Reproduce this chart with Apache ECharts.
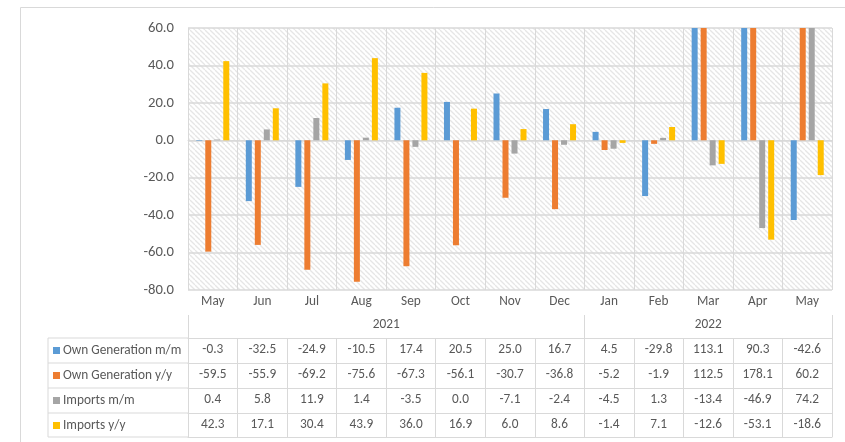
<!DOCTYPE html>
<html>
<head>
<meta charset="utf-8">
<script src="https://cdn.jsdelivr.net/npm/echarts@6/dist/echarts.min.js"></script>
<style>
html, body { margin: 0; padding: 0; background: #fff; }
#chart1 { width: 845px; height: 442px; }
</style>
</head>
<body>
<div id="chart1"></div>
<script>
// data
var months = ['May', 'Jun', 'Jul', 'Aug', 'Sep', 'Oct', 'Nov', 'Dec', 'Jan', 'Feb', 'Mar', 'Apr', 'May'];
var years = ['2021', '2022'];
var yearStarts = [0, 8, 13];
var seriesNames = ['Own Generation m/m', 'Own Generation y/y', 'Imports m/m', 'Imports y/y'];
var ownGenMM = [-0.3, -32.5, -24.9, -10.5, 17.4, 20.5, 25.0, 16.7, 4.5, -29.8, 113.1, 90.3, -42.6];
var ownGenYY = [-59.5, -55.9, -69.2, -75.6, -67.3, -56.1, -30.7, -36.8, -5.2, -1.9, 112.5, 178.1, 60.2];
var importsMM = [0.4, 5.8, 11.9, 1.4, -3.5, 0.0, -7.1, -2.4, -4.5, 1.3, -13.4, -46.9, 74.2];
var importsYY = [42.3, 17.1, 30.4, 43.9, 36.0, 16.9, 6.0, 8.6, -1.4, 7.1, -12.6, -53.1, -18.6];
var yTicks = [-80, -60, -40, -20, 0, 20, 40, 60];

var allData = [ownGenMM, ownGenYY, importsMM, importsYY];
var colors = ['#5B9BD5', '#ED7D31', '#A5A5A5', '#FFC000'];
var font = 'Carlito, "Liberation Sans", sans-serif';
var lineCol = '#d9d9d9';
var textCol = '#595959';
var fs = 13.3;

// hatch pattern for the plot area
var hatch = document.createElement('canvas');
hatch.width = 5; hatch.height = 5;
var hc = hatch.getContext('2d');
hc.fillStyle = '#fff';
hc.fillRect(0, 0, 5, 5);
hc.strokeStyle = '#e6e6e6';
hc.lineWidth = 1.3;
[-5, 0, 5].forEach(function (k) {
    hc.beginPath();
    hc.moveTo(k, 0);
    hc.lineTo(k + 5, 5);
    hc.stroke();
});

var myChart1 = echarts.init(document.getElementById('chart1'));

var gridLeft = 188, gridRight = 13, gridTop = 28, gridBottom = 152;
var rowH = 25;

var xAxes = [
    {
        type: 'category',
        data: months,
        position: 'bottom',
        axisLine: { show: true, lineStyle: { color: lineCol } },
        axisTick: { show: true, length: 25, lineStyle: { color: lineCol } },
        axisLabel: { interval: 0, margin: 5, color: textCol, fontSize: fs, fontFamily: font },
        splitLine: { show: true, interval: 0, lineStyle: { color: lineCol } }
    },
    {
        type: 'value',
        min: 0,
        max: 13,
        position: 'bottom',
        offset: 25,
        axisLine: { show: false },
        axisTick: { show: true, customValues: yearStarts, length: 23, inside: false, lineStyle: { color: lineCol } },
        axisLabel: {
            customValues: [(yearStarts[0] + yearStarts[1]) / 2, (yearStarts[1] + yearStarts[2]) / 2],
            margin: 3, color: textCol, fontSize: fs, fontFamily: font,
            formatter: function (v) { return v < yearStarts[1] ? years[0] : years[1]; }
        },
        splitLine: { show: false }
    }
];

// one axis per table row
allData.forEach(function (arr, i) {
    xAxes.push({
        type: 'category',
        data: arr.map(function (v) { return v.toFixed(1); }),
        position: 'bottom',
        offset: 48 + i * rowH,
        axisLine: { show: true, lineStyle: { color: lineCol } },
        axisTick: { show: true, length: i == 3 ? 24 : rowH, lineStyle: { color: lineCol } },
        axisLabel: { interval: 0, margin: 5, color: textCol, fontSize: fs, fontFamily: font },
        splitLine: { show: false }
    });
});
xAxes.push({
    type: 'category',
    data: months,
    position: 'bottom',
    offset: 48 + 4 * rowH - 1,
    axisLine: { show: true, lineStyle: { color: lineCol } },
    axisTick: { show: false },
    axisLabel: { show: false },
    splitLine: { show: false }
});

var tableTop = 442 - gridBottom + 48;
var extras = [];
for (var r = 0; r <= 4; r++) {
    var yy = tableTop + r * rowH - (r == 4 ? 1 : 0);
    extras.push({
        type: 'line',
        shape: { x1: 48, y1: yy, x2: gridLeft, y2: yy },
        style: { stroke: lineCol, lineWidth: 1 }
    });
}
extras.push({
    type: 'line',
    shape: { x1: 48, y1: tableTop, x2: 48, y2: tableTop + 4 * rowH - 1 },
    style: { stroke: lineCol, lineWidth: 1 }
});
extras.push({
    type: 'rect',
    shape: { x: 20.5, y: 7.5, width: 900, height: 500 },
    style: { fill: null, stroke: lineCol, lineWidth: 1 },
    z: -1
});

option1 = {
    animation: false,
    color: colors,
    grid: {
        left: gridLeft,
        right: gridRight,
        top: gridTop,
        bottom: gridBottom,
        show: true,
        borderWidth: 0,
        backgroundColor: { image: hatch, repeat: 'repeat' }
    },
    legend: {
        orient: 'vertical',
        left: 53,
        top: tableTop + 5,
        height: 110,
        padding: 0,
        itemWidth: 7,
        itemHeight: 7,
        itemGap: 10,
        icon: 'rect',
        data: seriesNames,
        textStyle: { color: textCol, fontSize: fs, fontFamily: font, lineHeight: 15, padding: [0, 0, 0, -2] }
    },
    xAxis: xAxes,
    yAxis: {
        type: 'value',
        min: yTicks[0],
        max: yTicks[yTicks.length - 1],
        interval: 20,
        axisLine: { show: false },
        axisTick: { show: false },
        axisLabel: {
            margin: 14, color: textCol, fontSize: 14.7, fontFamily: font,
            formatter: function (v) { return v.toFixed(1); }
        },
        splitLine: { show: true, lineStyle: { color: lineCol, width: 1.5 } }
    },
    graphic: extras,
    series: allData.map(function (arr, i) {
        return {
            name: seriesNames[i],
            type: 'bar',
            xAxisIndex: 0,
            data: arr,
            barWidth: 6,
            barGap: '50%',
            clip: true
        };
    })
};

myChart1.setOption(option1);
</script>
</body>
</html>
